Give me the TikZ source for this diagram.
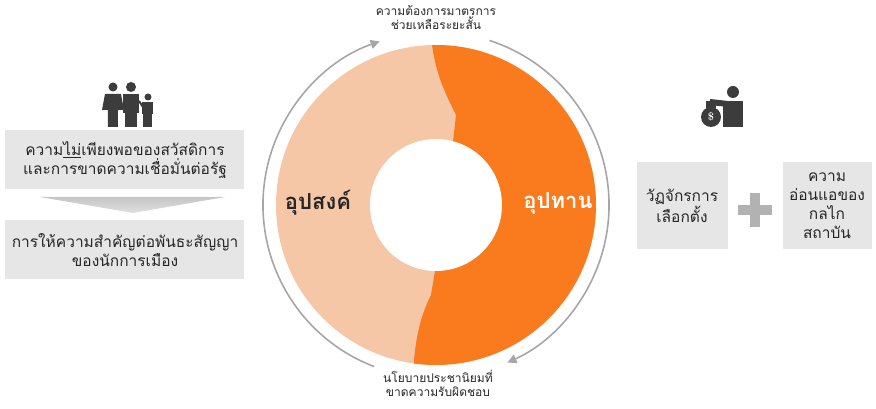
\documentclass[tikz,border=0pt]{standalone}
\usepackage{fontspec}
\newfontfamily\thai[Script=Thai]{Loma}
\usetikzlibrary{arrows.meta}
\definecolor{peach}{HTML}{F5C7A6}
\definecolor{orng}{HTML}{FA7A1E}
\definecolor{boxg}{HTML}{E6E6E6}
\definecolor{txt}{HTML}{262626}
\definecolor{icon}{HTML}{3C3C3C}
\begin{document}
\begin{tikzpicture}[x=1pt,y=1pt,
  gbox/.style={fill=boxg,draw=white,line width=1pt,align=center,text=txt,font=\thai\fontsize{15.5}{19}\selectfont},
  lbl/.style={align=center,text=txt,font=\thai\fontsize{12}{14}\selectfont,fill=white,inner sep=1pt},
  cyc/.style={draw=gray!70,line width=1.6pt,-{Triangle[length=9pt,width=9pt]}}]
\useasboundingbox (-436,-204) rectangle (440,205);
% ring
\fill[peach] (0,0) circle[radius=160];
\fill[orng] (91.4:160) arc[start angle=91.4,end angle=-98,radius=160]
  .. controls (-20,-130) and (-15,-110) .. (-5,-90) -- (10,0) -- (20,90)
  .. controls (10,110) and (0,130) .. (91.4:160) -- cycle;
\fill[white] (0,0) circle[radius=66];
\node[font=\thai\bfseries\fontsize{22}{24}\selectfont,text=txt] (d) at (-118,2) {อุปสงค์};
\node[font=\thai\bfseries\fontsize{22}{24}\selectfont,text=white] (s) at (122,2) {อุปทาน};
% cycle arrows
\draw[cyc] (249:173) arc[start angle=249,end angle=109,radius=173];
\draw[cyc] (72:173) arc[start angle=72,end angle=-65.6,radius=173];
\node[lbl] (top) at (0,187) {ความต้องการมาตรการ\\ช่วยเหลือระยะสั้น};
\node[lbl] (bot) at (2,-178) {นโยบายประชานิยมที่\\ขาดความรับผิดชอบ};
% left panel
\node[gbox,minimum width=240pt,minimum height=60pt] (b1) at (-311,45) {ความ\underline{ไม่}เพียงพอของสวัสดิการ\\และการขาดความเชื่อมั่นต่อรัฐ};
\shade[top color=gray!45,bottom color=gray!25] (-396,8) -- (-211,8) -- (-303,-8) -- cycle;
\node[gbox,minimum width=240pt,minimum height=60pt] (b2) at (-311,-45) {การให้ความสำคัญต่อพันธะสัญญา\\ของนักการเมือง};
% family icon
\begin{scope}[fill=icon]
 \fill (-323,118) circle[radius=4.5];
 \fill (-331,111) -- (-315,111) -- (-312,95) -- (-318,95) -- (-318,78) -- (-328,78) -- (-328,95) -- (-334,95) -- cycle;
 \fill (-305,118) circle[radius=5];
 \fill (-313,111) rectangle (-297,92); \fill (-311,92) rectangle (-299,78);
 \fill (-288,108) circle[radius=3.5];
 \fill (-294,103) rectangle (-283,91); \fill (-293,91) rectangle (-284,78);
 \draw[icon,line width=2pt] (-297,104) -- (-293,98);
\end{scope}
% right panel
\node[gbox,minimum width=92pt,minimum height=88pt] (r1) at (246,-1) {วัฏจักรการ\\เลือกตั้ง};
\fill[gray!60] (302,-10) rectangle (336,0);
\fill[gray!60] (314,-22) rectangle (324,12);
\node[gbox,minimum width=90pt,minimum height=88pt] (r2) at (391,-1) {ความ\\อ่อนแอของ\\กลไก\\สถาบัน};
% money icon
\fill[icon] (297,113) circle[radius=6];
\fill[icon] (287,104) rectangle (307,78);
\fill[icon] (292,104) -- (274,106) -- (274,100) -- (292,98) -- cycle;
\fill[icon] (275,88) circle[radius=10];
\fill[icon] (270,97) rectangle (280,104);
\node[text=white,font=\bfseries\fontsize{11}{11}\selectfont] (dol) at (275,88) {\$};
\end{tikzpicture}
\end{document}
